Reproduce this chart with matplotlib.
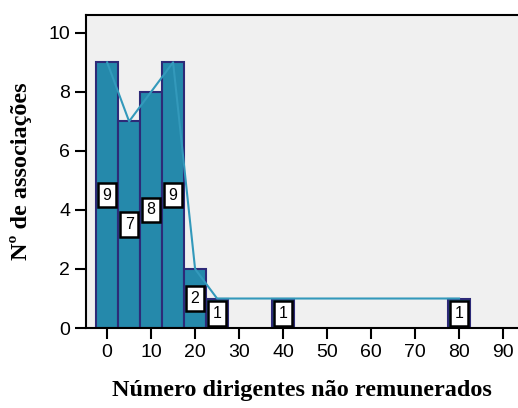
import matplotlib
matplotlib.use("Agg")
import matplotlib.pyplot as plt

# histogram bins (centre of each 5-wide class) and counts
centers = [0, 5, 10, 15, 20, 25, 40, 80]
counts = [9, 7, 8, 9, 2, 1, 1, 1]
xticks = list(range(0, 100, 10))
yticks = [0, 2, 4, 6, 8, 10]

bar_color = "#2589ab"
edge_color = "#2d2a78"
line_color = "#3399bb"

fig = plt.figure(figsize=(5.18, 4.08), dpi=100)
ax = fig.add_axes([0.166, 0.196, 0.834, 0.767])
ax.set_facecolor("#f0f0f0")

ax.bar(centers, counts, width=5, color=bar_color, edgecolor=edge_color, linewidth=1.5, zorder=2)
ax.plot(centers, counts, color=line_color, linewidth=1.5, zorder=3)

for c, n in zip(centers, counts):
    ax.text(c, n / 2, str(n), ha="center", va="center", fontsize=11.5,
            family="Liberation Sans", zorder=4,
            bbox=dict(boxstyle="square,pad=0.3", fc="white", ec="black", lw=1.8))

ax.set_xlim(-4.8, 93.4)
ax.set_ylim(0, 10.6)
ax.set_xticks(xticks)
ax.set_yticks(yticks)
ax.tick_params(direction="out", length=8, width=1.5, labelsize=14)
for lab in ax.get_xticklabels() + ax.get_yticklabels():
    lab.set_family("Liberation Sans")
ax.spines["right"].set_visible(False)
for s in ["left", "bottom", "top"]:
    ax.spines[s].set_linewidth(1.5)

ax.set_xlabel("Número dirigentes não remunerados", family="Liberation Serif",
              fontweight="bold", fontsize=17.5, labelpad=14)
ax.set_ylabel("Nº de associações", family="Liberation Serif",
              fontweight="bold", fontsize=17.5, labelpad=12)

fig.savefig("out.png", dpi=100)
